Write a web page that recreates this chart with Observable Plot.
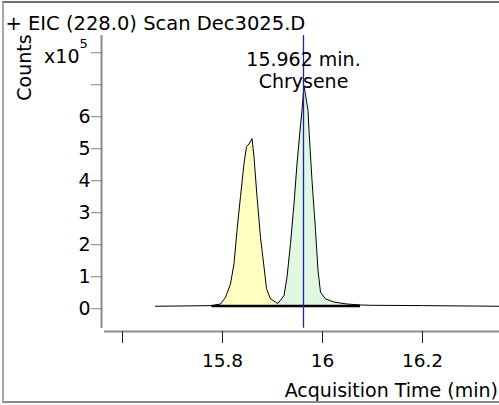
<!DOCTYPE html>
<html><head><meta charset="utf-8">
<script src="https://cdn.jsdelivr.net/npm/d3@7"></script>
<script src="https://cdn.jsdelivr.net/npm/@observablehq/plot@0.6"></script>
<style>
html,body{margin:0;padding:0;background:#fff;}
#wrap{position:relative;width:499px;height:405px;overflow:hidden;}
#wrap svg{position:absolute;left:0;top:0;}
#border{position:absolute;z-index:2;left:2px;top:1px;width:540px;height:402px;border-top:2px solid #6e6e6e;border-left:2px solid #a8a8a8;border-bottom:2px solid #8a8a8a;box-sizing:border-box;pointer-events:none;}
</style></head><body><div id="wrap"><div id="border"></div></div>
<script>
const title = "+ EIC (228.0) Scan Dec3025.D";
const xLabel = "Acquisition Time (min)";
const yLabel = "Counts";
const yScaleBase = "x10";
const yScaleExponent = "5";
// acquisition time (min) and counts (x10^5)
const time = [15.666, 15.779, 15.796, 15.806, 15.816, 15.823, 15.829, 15.836, 15.843, 15.848, 15.853, 15.859, 15.863, 15.869, 15.876, 15.883, 15.888, 15.896, 15.906, 15.911, 15.923, 15.929, 15.936, 15.943, 15.949, 15.955, 15.959, 15.963, 15.971, 15.973, 15.979, 15.986, 15.991, 15.996, 16.006, 16.023, 16.049, 16.076, 16.096, 16.200, 16.354];
const counts = [0.03, 0.05, 0.10, 0.31, 0.73, 1.36, 2.40, 3.46, 4.49, 5.02, 5.10, 5.27, 4.69, 3.46, 2.18, 1.26, 0.58, 0.26, 0.16, 0.12, 0.36, 0.94, 1.99, 3.24, 4.48, 5.52, 6.15, 6.93, 6.15, 5.52, 3.96, 2.40, 1.15, 0.47, 0.26, 0.16, 0.10, 0.07, 0.06, 0.05, 0.03];
const peakStart = [15.779, 15.911];
const peakEnd = [15.911, 16.076];
const peakColors = ["#ffffc2", "#e0f8e2"];
const baselineLevel = 0.04;
const markerTime = 15.962;
const markerLabel = ["15.962 min.", "Chrysene"];
const xTicks = [15.6, 15.8, 16, 16.2];
const xTickLabels = ["", "15.8", "16", "16.2"];
const yTicks = [0, 1, 2, 3, 4, 5, 6, 7, 8];
const yTickLabels = ["0", "1", "2", "3", "4", "5", "6", "", ""];

const data = time.map((t, i) => ({t, c: counts[i]}));
const xDomain = [15.558, 16.354];
const yDomain = [-0.759, 8.491];

const areas = peakStart.map((s, k) =>
  Plot.areaY(data.filter(d => d.t >= s - 1e-9 && d.t <= peakEnd[k] + 1e-9),
    {x: "t", y1: baselineLevel, y2: "c", fill: peakColors[k], curve: "linear"}));

const chart = Plot.plot({
  width: 499, height: 405,
  marginLeft: 101, marginRight: 0, marginTop: 35, marginBottom: 74,
  style: {fontFamily: "DejaVu Sans", fontSize: "19px", background: "transparent", color: "#000"},
  x: {domain: xDomain},
  y: {domain: yDomain},
  marks: [
    ...areas,
    Plot.ruleY([baselineLevel], {x1: peakStart[0], x2: peakEnd[peakEnd.length - 1], stroke: "#000", strokeWidth: 2.5}),
    Plot.line(data, {x: "t", y: "c", stroke: "#000", strokeWidth: 1}),
    Plot.ruleX([markerTime], {y1: -0.656, y2: yDomain[1], stroke: "#1f1fb5", strokeWidth: 1.3}),
    Plot.text([markerLabel.join("\n")], {x: markerTime, y: yDomain[1], lineAnchor: "top", dy: 14.5, textAnchor: "middle", fontSize: 19, lineHeight: 1.16}),
    // axes
    Plot.ruleX([xDomain[0]], {y1: -0.666, y2: yDomain[1], stroke: "#8c8c8c", strokeWidth: 2}),
    Plot.ruleY([yDomain[0]], {x1: 15.564, x2: xDomain[1], stroke: "#8c8c8c", strokeWidth: 2}),
    Plot.axisY({ticks: yTicks, tickSize: 10, tickPadding: 1, stroke: "#808080", tickFormat: (d, i) => yTickLabels[yTicks.indexOf(d)], fontSize: 19, dy: 1.5}),
    Plot.axisX({ticks: xTicks, tickSize: 12, tickPadding: 10, stroke: "#222", tickFormat: d => xTickLabels[xTicks.indexOf(d)], fontSize: 18.5, label: null}),
    Plot.text([{v: 8, s: yScaleBase}], {y: "v", text: "s", frameAnchor: "left", textAnchor: "end", dx: -22, dy: 6, fontSize: 19}),
    Plot.text([{v: 8, s: yScaleExponent}], {y: "v", text: "s", frameAnchor: "left", textAnchor: "start", dx: -22, dy: -7.4, fontSize: 13}),
    // titles
    Plot.text([title], {frameAnchor: "top-left", textAnchor: "start", lineAnchor: "top", dx: -96, dy: -19.5, fontSize: 19.5}),
    Plot.text([yLabel], {frameAnchor: "top-left", rotate: -90, textAnchor: "middle", lineAnchor: "middle", dx: -77, dy: 32, fontSize: 19}),
    Plot.text([xLabel], {frameAnchor: "bottom-right", textAnchor: "end", lineAnchor: "top", dx: -1.5, dy: 52, fontSize: 19})
  ]
});
document.getElementById("wrap").appendChild(chart);
</script>
</body></html>
